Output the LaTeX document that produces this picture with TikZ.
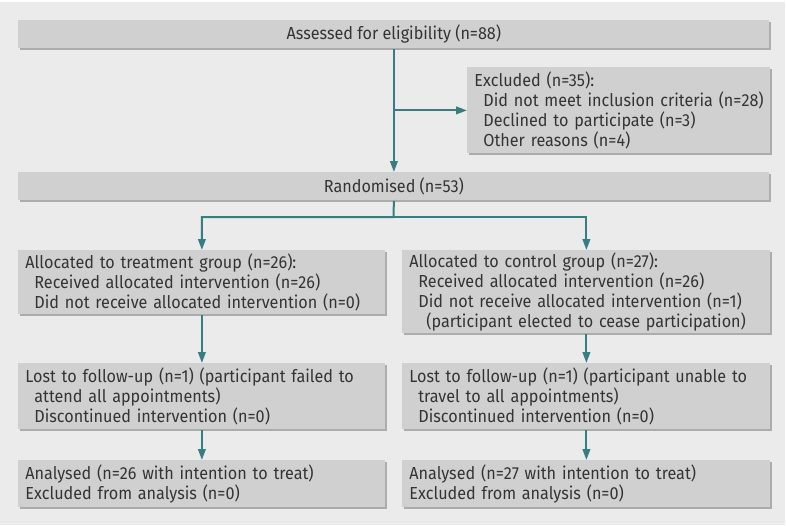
\documentclass[tikz,border=0pt]{standalone}
\usepackage{fontspec}
\setmainfont{Fira Sans}[FakeStretch=0.93]
\usetikzlibrary{arrows.meta,shadows}
\definecolor{bggray}{RGB}{235,235,235}
\definecolor{boxgray}{RGB}{208,208,208}
\definecolor{shadowgray}{RGB}{172,172,172}
\definecolor{textgray}{RGB}{52,52,52}
\definecolor{arrowteal}{RGB}{56,126,128}
\begin{document}
\begin{tikzpicture}[x=0.5pt, y=-0.5pt,
        box/.style={rectangle, anchor=north west, fill=boxgray, text=textgray,
            inner xsep=3.5pt, inner ysep=0pt, align=left,
            font=\fontsize{8.7}{10}\selectfont,
            drop shadow={shadow xshift=1pt, shadow yshift=-1pt, fill=shadowgray, opacity=1}},
        arrow/.style={-{Triangle[length=5.5pt, width=3.8pt]}, draw=arrowteal, line width=1pt}
    ]
        \fill[white] (0,0) rectangle (787,525);
        \fill[bggray] (0,2) rectangle (785,525);
        % top of the chart
        \node[box, align=center, minimum width=375.5pt, minimum height=14pt] (elig) at (18,20)
            {Assessed for eligibility (n=88)};
        \node[box, text width=144.5pt, minimum height=43pt] (excl) at (467,67)
            {Excluded (n=35):\\
             \hspace*{4.5pt}\mbox{Did not meet inclusion criteria (n=28)}\\
             \hspace*{4.5pt}Declined to participate (n=3)\\
             \hspace*{4.5pt}Other reasons (n=4)};
        \node[box, align=center, minimum width=375.5pt, minimum height=14pt] (rand) at (18,172)
            {Randomised (n=53)};
        % two groups
        \node[box, text width=176.5pt, minimum height=32pt] (treat) at (18,250)
            {Allocated to treatment group (n=26):\\
             \hspace*{4.5pt}Received allocated intervention (n=26)\\
             \hspace*{4.5pt}Did not receive allocated intervention (n=0)};
        \node[box, text width=177pt, minimum height=41.5pt] (ctrl) at (402,250)
            {Allocated to control group (n=27):\\
             \hspace*{4.5pt}Received allocated intervention (n=26)\\
             \hspace*{4.5pt}Did not receive allocated intervention (n=1)\\
             \hspace*{8.5pt}(participant elected to cease participation)};
        \node[box, text width=176.5pt, minimum height=33pt] (lostT) at (18,363)
            {Lost to follow-up (n=1) (participant failed to\\
             \hspace*{4.5pt}attend all appointments)\\
             \hspace*{4.5pt}Discontinued intervention (n=0)};
        \node[box, text width=177pt, minimum height=33pt] (lostC) at (402,363)
            {Lost to follow-up (n=1) (participant unable to\\
             \hspace*{4.5pt}travel to all appointments)\\
             \hspace*{4.5pt}Discontinued intervention (n=0)};
        \node[box, text width=176.5pt, minimum height=23.5pt] (anaT) at (18,460)
            {Analysed (n=26 with intention to treat)\\
             Excluded from analysis (n=0)};
        \node[box, text width=177pt, minimum height=23.5pt] (anaC) at (402,460)
            {Analysed (n=27 with intention to treat)\\
             Excluded from analysis (n=0)};
        % connectors
        \draw[arrow] (elig) -- (rand);
        \draw[arrow] (elig.south |- excl.west) -- (excl.west);
        \coordinate (split) at (393.5,217);
        \draw[arrow] (rand.south) -- (split) -| (treat.north);
        \draw[arrow] (split) -| (ctrl.north);
        \foreach \a/\b in {treat/lostT, ctrl/lostC, lostT/anaT, lostC/anaC}
            \draw[arrow] (\a.south) -- (\b.north);
    \end{tikzpicture}
\end{document}
